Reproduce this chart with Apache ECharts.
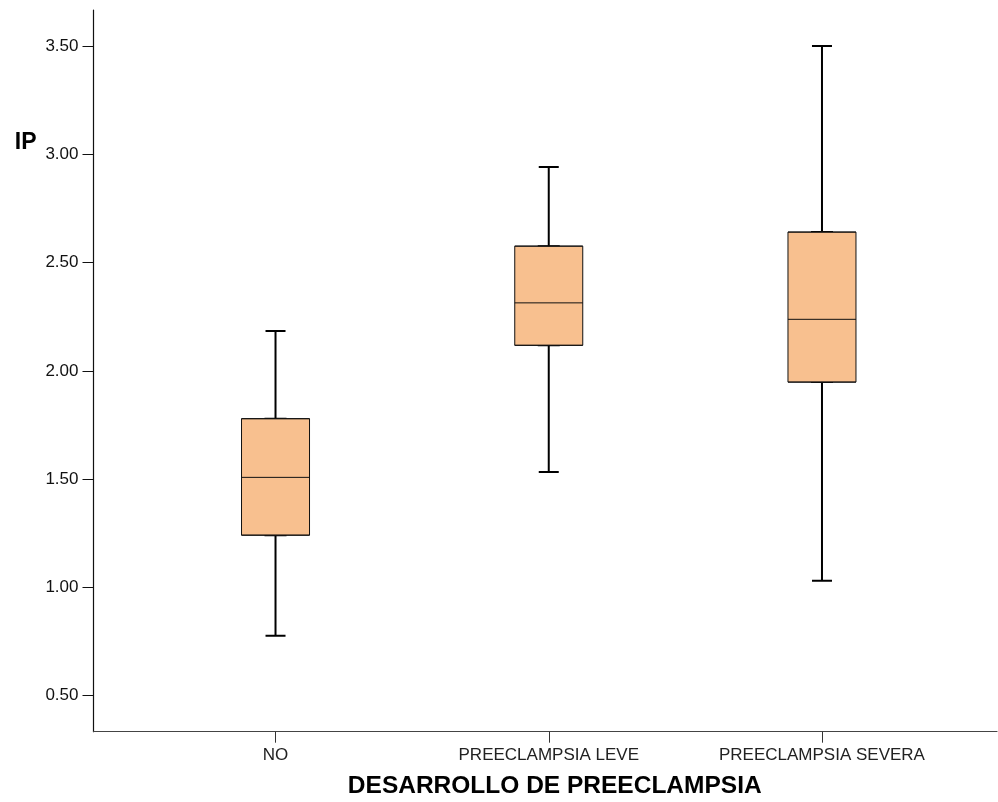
<!DOCTYPE html>
<html>
<head>
<meta charset="utf-8">
<script src="https://cdn.jsdelivr.net/npm/echarts@6/dist/echarts.min.js"></script>
<style>
html,body{margin:0;padding:0;background:#fff;}
#chart{width:998px;height:802px;}
</style>
</head>
<body>
<div id="chart"></div>
<script>
// Data
const categories = ['NO', 'PREECLAMPSIA LEVE', 'PREECLAMPSIA SEVERA'];
const whiskerMin = [0.776, 1.533, 1.031];
const q1Values   = [1.241, 2.118, 1.948];
const medians    = [1.508, 2.314, 2.238];
const q3Values   = [1.779, 2.576, 2.641];
const whiskerMax = [2.184, 2.941, 3.500];
const yTickValues = [0.5, 1.0, 1.5, 2.0, 2.5, 3.0, 3.5];
const yMin = 1 / 3;
const yMax = 11 / 3;
const xTitle = 'DESARROLLO DE PREECLAMPSIA';
const yTitle = 'IP';

const FONT = "'Liberation Sans', Arial, Helvetica, sans-serif";

const whiskerData = categories.map((c, i) => [whiskerMin[i], q1Values[i], medians[i], q3Values[i], whiskerMax[i]]);
const boxData = categories.map((c, i) => [q1Values[i], q1Values[i], medians[i], q3Values[i], q3Values[i]]);

const chart = echarts.init(document.getElementById('chart'), null, {renderer: 'canvas'});
chart.setOption({
  backgroundColor: '#ffffff',
  animation: false,
  grid: [
    {left: 138.9, right: 39.4, top: 10, bottom: 70.3, outerBoundsMode: 'none', containLabel: false},
    {left: 93.5, right: 1, top: 10, bottom: 70.3, outerBoundsMode: 'none', containLabel: false}
  ],
  xAxis: [
    {
      type: 'category', gridIndex: 0, data: categories, position: 'bottom',
      axisLine: {show: false, onZero: false},
      axisTick: {show: true, alignWithLabel: true, length: 11, lineStyle: {color: '#333', width: 1}},
      axisLabel: {fontSize: 17, color: '#222', fontFamily: FONT, margin: 15},
      splitLine: {show: false},
      name: xTitle, nameLocation: 'middle', nameGap: 42, nameMoveOverlap: false,
      nameTextStyle: {fontSize: 24.5, fontWeight: 'bold', color: '#000', fontFamily: FONT, padding: [0, 0, 0, 12]}
    },
    {
      type: 'value', gridIndex: 1, min: 0, max: 1, position: 'bottom',
      axisLine: {show: true, onZero: false, lineStyle: {color: '#444', width: 1.2}},
      axisTick: {show: false}, axisLabel: {show: false}, splitLine: {show: false}
    },
    {
      type: 'category', gridIndex: 0, data: categories, show: false, position: 'bottom',
      axisLine: {onZero: false}
    }
  ],
  yAxis: [
    {type: 'value', gridIndex: 0, min: yMin, max: yMax, show: false, splitLine: {show: false}},
    {
      type: 'value', gridIndex: 1, min: yMin, max: yMax, position: 'left',
      axisLine: {show: true, onZero: false, lineStyle: {color: '#111', width: 1.2}},
      axisTick: {show: true, length: 11, customValues: yTickValues, lineStyle: {color: '#111', width: 1}},
      axisLabel: {
        show: true, customValues: yTickValues, fontSize: 17, color: '#111', fontFamily: FONT, margin: 15,
        formatter: v => Number(v).toFixed(2)
      },
      splitLine: {show: false},
      name: yTitle, nameLocation: 'end', nameGap: -133, nameMoveOverlap: false,
      nameTextStyle: {fontSize: 23, fontWeight: 'bold', color: '#000', fontFamily: FONT, align: 'right', verticalAlign: 'middle', padding: [0, 57, 0, 0]}
    }
  ],
  series: [
    {
      type: 'boxplot', xAxisIndex: 0, yAxisIndex: 0,
      data: whiskerData,
      boxWidth: [20, 20],
      itemStyle: {color: '#f8c08f', borderColor: '#000', borderWidth: 2},
      emphasis: {disabled: true},
      z: 2
    },
    {
      type: 'boxplot', xAxisIndex: 2, yAxisIndex: 0,
      data: boxData,
      boxWidth: [68, 68],
      itemStyle: {color: '#f8c08f', borderColor: '#111', borderWidth: 1},
      emphasis: {disabled: true},
      z: 3
    }
  ]
});
</script>
</body>
</html>
